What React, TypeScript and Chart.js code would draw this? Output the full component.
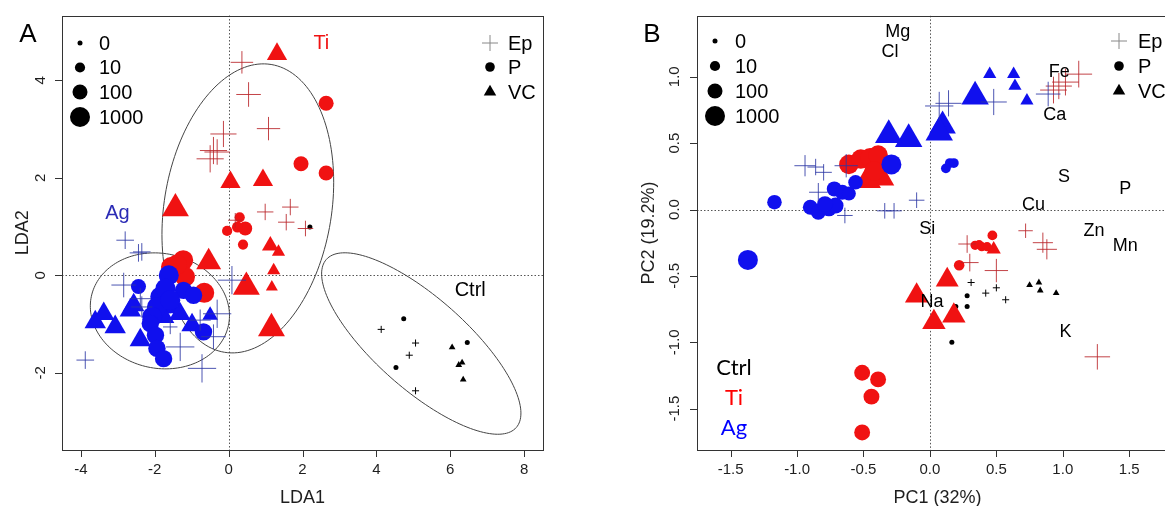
import React, { useEffect, useRef } from "react";
import { Chart, registerables } from "chart.js";
Chart.register(...registerables);

type Pt = [number, number, number]; // [x, y, abundance]

// ---------------- Panel A (LDA) ----------------
const A_X_TICKS = [-4, -2, 0, 2, 4, 6, 8];
const A_Y_TICKS = [-2, 0, 2, 4];
const A_X_RANGE = [-4.51, 8.51];
const A_Y_RANGE = [-3.585, 5.33];

const A_AG_EP: Pt[] = [
  [-2.80, 0.72, 30], [-2.35, 0.48, 30], [-2.44, 0.46, 30], [-3.88, -1.74, 30],
  [-2.84, -0.20, 300], [-2.39, -0.48, 100], [-2.35, -0.65, 100],
  [-1.31, -1.47, 1000], [-0.72, -1.91, 1000], [-0.41, -1.26, 300],
  [-0.31, -0.79, 1000], [0.09, -0.10, 1000], [-1.58, -1.06, 10], [-0.77, -0.92, 100],
];
const A_AG_P: Pt[] = [
  [-2.44, -0.23, 100], [-1.62, 0.0, 1000], [-1.22, -0.31, 300], [-0.95, -0.41, 300],
  [-1.85, -0.44, 1000], [-1.94, -0.65, 1000], [-2.07, -0.85, 1000], [-2.12, -0.99, 300],
  [-1.98, -1.23, 300], [-1.94, -1.50, 300], [-1.76, -1.71, 300], [-0.68, -1.16, 300],
  [-1.71, -0.27, 1000], [-1.58, -0.51, 1000],
];
const A_AG_VC: Pt[] = [
  [-3.61, -0.96, 150], [-3.38, -0.79, 150], [-3.07, -1.06, 150], [-2.66, -0.72, 150],
  [-2.57, -0.61, 150], [-2.39, -1.33, 150], [-1.85, -0.65, 150], [-1.61, -0.65, 150],
  [-1.32, -0.79, 150], [-0.99, -1.02, 150], [-0.50, -0.82, 20], [-2.05, -0.79, 150],
  [-1.76, -0.85, 150],
];
const A_TI_EP: Pt[] = [
  [0.36, 4.37, 150], [0.54, 3.71, 300], [-0.14, 2.90, 500], [1.08, 3.01, 200],
  [-0.41, 2.56, 700], [-0.31, 2.53, 400], [-0.50, 2.39, 700],
  [0.99, 1.30, 20], [1.67, 1.40, 20], [1.56, 1.09, 20], [2.08, 0.96, 15], [0.18, 1.13, 10],
];
const A_TI_P: Pt[] = [
  [2.64, 3.53, 100], [1.96, 2.29, 100], [2.64, 2.10, 100], [0.30, 1.19, 10],
  [0.45, 0.96, 60], [0.24, 0.99, 15], [-0.04, 0.91, 10], [0.39, 0.63, 10],
  [-1.23, 0.31, 1000], [-1.56, 0.17, 1000], [-1.18, -0.03, 1000], [-0.66, -0.36, 1000],
  [-1.40, 0.22, 1000],
];
const A_TI_VC: Pt[] = [
  [1.31, 4.54, 100], [0.05, 1.91, 100], [0.93, 1.95, 100], [-1.44, 1.37, 1000],
  [-0.54, 0.27, 500], [1.13, 0.61, 30], [1.35, 0.48, 8], [1.22, 0.10, 8],
  [1.17, -0.24, 5], [0.48, -0.24, 1000], [1.16, -1.09, 1000],
];
const A_CTRL_EP: Pt[] = [[4.13, -1.11, 0], [5.06, -1.39, 0], [4.89, -1.64, 0], [5.06, -2.37, 0]];
const A_CTRL_P: Pt[] = [[4.74, -0.89, 0], [4.53, -1.89, 0], [6.46, -1.38, 0], [2.20, 0.99, 0]];
const A_CTRL_VC: Pt[] = [[6.05, -1.48, 0], [6.32, -1.79, 0], [6.23, -1.84, 0], [6.35, -2.14, 0]];

// confidence ellipses: centre and two conjugate semi-axes (data units)
const A_ELLIPSE_CX = [-1.86, 0.52, 5.215];
const A_ELLIPSE_CY = [-0.73, 1.373, -1.40];
const A_ELLIPSE_U = [[1.855, -0.299], [0.631, 2.953], [2.570, -1.725]];
const A_ELLIPSE_V = [[-0.325, -1.152], [2.237, -0.275], [-0.820, -0.701]];

const A_GROUP_LABELS = ["Ti", "Ag", "Ctrl"];
const A_GROUP_LABEL_X = [2.51, -3.01, 6.54];
const A_GROUP_LABEL_Y = [4.75, 1.27, -0.31];

// ---------------- Panel B (PCA) ----------------
const B_X_TICKS = [-1.5, -1.0, -0.5, 0.0, 0.5, 1.0, 1.5];
const B_Y_TICKS = [-1.5, -1.0, -0.5, 0.0, 0.5, 1.0];
const B_X_RANGE = [-1.753, 1.867];
const B_Y_RANGE = [-1.812, 1.459];

const B_AG_EP: Pt[] = [
  [-0.94, 0.33, 100], [-0.86, 0.32, 20], [-0.80, 0.28, 20], [-0.84, 0.13, 40],
  [-0.64, -0.045, 15], [-0.63, 0.33, 200], [-0.34, -0.01, 15], [-0.27, -0.01, 15],
  [-0.10, 0.07, 15], [0.07, 0.78, 1000], [0.14, 0.80, 500], [0.48, 0.81, 500], [0.89, 0.87, 300],
];
const B_AG_P: Pt[] = [
  [-1.37, -0.38, 1000], [-1.17, 0.055, 80], [-0.90, 0.017, 100], [-0.84, -0.02, 100],
  [-0.76, 0.005, 100], [-0.71, 0.03, 150], [-0.72, 0.155, 100], [-0.66, 0.13, 100],
  [-0.61, 0.12, 60], [-0.56, 0.205, 80], [-0.29, 0.34, 1000], [0.12, 0.31, 8],
  [0.15, 0.35, 8], [0.18, 0.35, 8], [-0.79, 0.04, 150],
];
const B_AG_VC: Pt[] = [
  [0.45, 1.02, 8], [0.63, 1.02, 8], [0.64, 0.93, 8], [0.73, 0.82, 8],
  [0.34, 0.85, 1200], [0.095, 0.63, 900], [0.07, 0.58, 1200], [-0.16, 0.53, 1200], [-0.31, 0.56, 1200],
];
const B_TI_EP: Pt[] = [
  [0.72, -0.16, 10], [0.85, -0.25, 70], [0.88, -0.30, 70], [0.50, -0.46, 200],
  [0.30, -0.40, 30], [0.28, -0.26, 30], [1.26, -1.11, 400],
  [0.93, 0.90, 600], [0.97, 0.93, 500], [1.02, 0.96, 600], [1.12, 1.02, 600],
];
const B_TI_P: Pt[] = [
  [-0.51, -1.23, 150], [-0.39, -1.28, 150], [-0.44, -1.41, 150], [-0.51, -1.68, 150],
  [0.22, -0.42, 12], [0.47, -0.195, 8], [0.34, -0.27, 6], [0.39, -0.28, 6],
  [0.43, -0.28, 6], [0.37, -0.265, 6],
  [-0.61, 0.34, 800], [-0.52, 0.38, 800], [-0.45, 0.39, 800], [-0.39, 0.41, 800], [-0.42, 0.29, 800],
];
const B_TI_VC: Pt[] = [
  [-0.10, -0.65, 300], [0.13, -0.53, 250], [0.03, -0.85, 300], [0.18, -0.80, 300],
  [0.48, -0.30, 12], [-0.47, 0.22, 1000], [-0.37, 0.24, 1000],
];
const B_CTRL_EP: Pt[] = [[0.31, -0.55, 0], [0.42, -0.63, 0], [0.50, -0.59, 0], [0.57, -0.68, 0]];
const B_CTRL_P: Pt[] = [[0.28, -0.65, 0], [0.195, -0.73, 0], [0.28, -0.73, 0], [0.165, -1.0, 0]];
const B_CTRL_VC: Pt[] = [[0.75, -0.57, 0], [0.82, -0.55, 0], [0.83, -0.61, 0], [0.95, -0.63, 0]];

const B_VAR_NAMES = ["Mg", "Cl", "Fe", "Ca", "S", "P", "Cu", "Si", "Zn", "Mn", "Na", "K"];
const B_VAR_X = [-0.243, -0.30, 0.973, 0.94, 1.01, 1.47, 0.78, -0.02, 1.235, 1.47, 0.015, 1.02];
const B_VAR_Y = [1.336, 1.19, 1.035, 0.71, 0.245, 0.158, 0.03, -0.145, -0.16, -0.276, -0.70, -0.92];

// legends
const SIZE_LEGEND_VALUES = [0, 10, 100, 1000];
const SIZE_LEGEND_LABELS = ["0", "10", "100", "1000"];
const SHAPE_LEGEND_LABELS = ["Ep", "P", "VC"];
const GROUP_LEGEND_LABELS = ["Ctrl", "Ti", "Ag"];

// ---------------- styling ----------------
const H = 506;
const FONT = '"Liberation Sans", Arial, Helvetica, sans-serif';
const FONT2 = 'Lato, "Liberation Sans", sans-serif';
const RED = "#f01212";
const BLUE = "#1010ee";
const RED_LINE = "rgba(185,35,40,0.85)";
const BLUE_LINE = "rgba(45,55,165,0.85)";
const BLACK = "#000000";
const TEXT = "#1e1e1e";

type Shape = "circle" | "triangle" | "cross";
const radiusFor = (v: number) => 2.5 + 2.5 * Math.log10(v + 1);
const shapeK = (s: Shape) => (s === "triangle" ? 1.555 : s === "cross" ? 1.414 : 1);

function makeDataset(label: string, pts: Pt[], shape: Shape, color: string) {
  const radii = pts.map((p) => radiusFor(p[2]) * shapeK(shape));
  const fill = shape === "cross" ? "rgba(0,0,0,0)" : color;
  return {
    label,
    data: pts.map((p) => ({ x: p[0], y: p[1] })),
    pointStyle: shape,
    pointRadius: radii,
    pointHoverRadius: radii,
    backgroundColor: fill,
    pointBackgroundColor: fill,
    borderColor: color,
    pointBorderColor: color,
    borderWidth: shape === "cross" ? 1 : 0,
    pointBorderWidth: shape === "cross" ? 1 : 0,
    showLine: false,
  };
}

function marker(ctx: CanvasRenderingContext2D, shape: Shape, x: number, y: number, r: number, color: string) {
  ctx.save();
  ctx.fillStyle = color;
  ctx.strokeStyle = color;
  ctx.lineWidth = 1;
  ctx.beginPath();
  if (shape === "circle") {
    ctx.arc(x, y, r, 0, Math.PI * 2);
    ctx.fill();
  } else if (shape === "triangle") {
    for (let k = 0; k < 3; k++) {
      const a = (k * 2 * Math.PI) / 3;
      const px = x + Math.sin(a) * r;
      const py = y - Math.cos(a) * r;
      if (k === 0) ctx.moveTo(px, py);
      else ctx.lineTo(px, py);
    }
    ctx.closePath();
    ctx.fill();
  } else {
    ctx.moveTo(x - r, y);
    ctx.lineTo(x + r, y);
    ctx.moveTo(x, y - r);
    ctx.lineTo(x, y + r);
    ctx.stroke();
  }
  ctx.restore();
}

function drawZeroLines(chart: any) {
  const { ctx, chartArea: ca, scales } = chart;
  const x0 = Math.round(scales.x.getPixelForValue(0)) + 0.5;
  const y0 = Math.round(scales.y.getPixelForValue(0)) + 0.5;
  ctx.save();
  ctx.strokeStyle = "#555";
  ctx.lineWidth = 1;
  ctx.setLineDash([1.5, 2]);
  ctx.beginPath();
  ctx.moveTo(x0, ca.top);
  ctx.lineTo(x0, ca.bottom);
  ctx.moveTo(ca.left, y0);
  ctx.lineTo(ca.right, y0);
  ctx.stroke();
  ctx.restore();
}

function drawFrame(
  chart: any, xt: number[], yt: number[], fmt: (v: number) => string,
  xTitle: string, yTitle: string, yLabOff: number, yTitleOff: number
) {
  const { ctx, chartArea: ca, scales } = chart;
  ctx.save();
  ctx.strokeStyle = "#333";
  ctx.lineWidth = 1;
  ctx.strokeRect(Math.round(ca.left) + 0.5, Math.round(ca.top) + 0.5, Math.round(ca.right - ca.left), Math.round(ca.bottom - ca.top));
  ctx.fillStyle = TEXT;
  ctx.font = `15px ${FONT}`;
  ctx.textAlign = "center";
  ctx.textBaseline = "middle";
  ctx.beginPath();
  for (const v of xt) {
    const px = Math.round(scales.x.getPixelForValue(v)) + 0.5;
    ctx.moveTo(px, ca.bottom);
    ctx.lineTo(px, ca.bottom + 7);
  }
  for (const v of yt) {
    const py = Math.round(scales.y.getPixelForValue(v)) + 0.5;
    ctx.moveTo(ca.left - 7, py);
    ctx.lineTo(ca.left, py);
  }
  ctx.stroke();
  for (const v of xt) {
    ctx.fillText(fmt(v), scales.x.getPixelForValue(v), ca.bottom + 20);
  }
  for (const v of yt) {
    ctx.save();
    ctx.translate(ca.left - yLabOff, scales.y.getPixelForValue(v));
    ctx.rotate(-Math.PI / 2);
    ctx.fillText(fmt(v), 0, 0);
    ctx.restore();
  }
  ctx.font = `18px ${FONT}`;
  ctx.fillText(xTitle, (ca.left + ca.right) / 2, ca.bottom + 48);
  ctx.save();
  ctx.translate(ca.left - yTitleOff, (ca.top + ca.bottom) / 2);
  ctx.rotate(-Math.PI / 2);
  ctx.fillText(yTitle, 0, 0);
  ctx.restore();
  ctx.restore();
}

function drawSizeLegend(ctx: CanvasRenderingContext2D, x: number, ys: number[], tx: number) {
  ctx.save();
  ctx.font = `20px ${FONT}`;
  ctx.fillStyle = BLACK;
  ctx.textAlign = "left";
  ctx.textBaseline = "middle";
  SIZE_LEGEND_VALUES.forEach((v, i) => {
    marker(ctx, "circle", x, ys[i], radiusFor(v), BLACK);
    ctx.fillText(SIZE_LEGEND_LABELS[i], tx, ys[i] + 1);
  });
  ctx.restore();
}

function drawShapeLegend(ctx: CanvasRenderingContext2D, x: number, ys: number[], tx: number) {
  ctx.save();
  marker(ctx, "cross", x, ys[0], 8, "#888");
  marker(ctx, "circle", x, ys[1], 4.8, BLACK);
  marker(ctx, "triangle", x, ys[2], 7.2, BLACK);
  ctx.font = `20px ${FONT}`;
  ctx.fillStyle = BLACK;
  ctx.textAlign = "left";
  ctx.textBaseline = "middle";
  SHAPE_LEGEND_LABELS.forEach((t, i) => ctx.fillText(t, tx, ys[i] + 1));
  ctx.restore();
}

function baseOptions(padding: any, xr: number[], yr: number[]) {
  return {
    animation: false,
    responsive: false,
    maintainAspectRatio: false,
    events: [],
    layout: { padding },
    plugins: { legend: { display: false }, tooltip: { enabled: false } },
    scales: {
      x: { type: "linear", min: xr[0], max: xr[1], display: false },
      y: { type: "linear", min: yr[0], max: yr[1], display: false },
    },
  };
}

const panelAPlugin = {
  id: "panelA",
  beforeDatasetsDraw(chart: any) {
    drawZeroLines(chart);
    const { ctx, scales } = chart;
    ctx.save();
    ctx.strokeStyle = "#444";
    ctx.lineWidth = 1;
    for (let e = 0; e < A_ELLIPSE_CX.length; e++) {
      ctx.beginPath();
      const N = 160;
      for (let i = 0; i <= N; i++) {
        const t = (2 * Math.PI * i) / N;
        const dx = A_ELLIPSE_CX[e] + Math.cos(t) * A_ELLIPSE_U[e][0] + Math.sin(t) * A_ELLIPSE_V[e][0];
        const dy = A_ELLIPSE_CY[e] + Math.cos(t) * A_ELLIPSE_U[e][1] + Math.sin(t) * A_ELLIPSE_V[e][1];
        const px = scales.x.getPixelForValue(dx);
        const py = scales.y.getPixelForValue(dy);
        if (i === 0) ctx.moveTo(px, py);
        else ctx.lineTo(px, py);
      }
      ctx.closePath();
      ctx.stroke();
    }
    ctx.restore();
  },
  afterDraw(chart: any) {
    const { ctx, scales } = chart;
    drawFrame(chart, A_X_TICKS, A_Y_TICKS, (v) => String(v), "LDA1", "LDA2", 21, 39);
    drawSizeLegend(ctx, 80, [43, 67.5, 92, 117], 99);
    drawShapeLegend(ctx, 490, [43, 67, 92], 508);
    const colors = [RED, "#2b2bb5", BLACK];
    ctx.save();
    ctx.font = `20px ${FONT}`;
    ctx.textAlign = "center";
    ctx.textBaseline = "middle";
    A_GROUP_LABELS.forEach((t, i) => {
      ctx.fillStyle = colors[i];
      ctx.fillText(t, scales.x.getPixelForValue(A_GROUP_LABEL_X[i]), scales.y.getPixelForValue(A_GROUP_LABEL_Y[i]));
    });
    ctx.fillStyle = BLACK;
    ctx.font = `26px ${FONT}`;
    ctx.fillText("A", 28, 35);
    ctx.restore();
  },
};

const panelBPlugin = {
  id: "panelB",
  beforeDatasetsDraw(chart: any) {
    drawZeroLines(chart);
  },
  afterDraw(chart: any) {
    const { ctx, scales } = chart;
    drawFrame(chart, B_X_TICKS, B_Y_TICKS, (v) => v.toFixed(1), "PC1 (32%)", "PC2 (19.2%)", 22, 48);
    ctx.save();
    ctx.font = `18px ${FONT}`;
    ctx.fillStyle = BLACK;
    ctx.textAlign = "center";
    ctx.textBaseline = "middle";
    B_VAR_NAMES.forEach((t, i) => {
      ctx.fillText(t, scales.x.getPixelForValue(B_VAR_X[i]), scales.y.getPixelForValue(B_VAR_Y[i]));
    });
    ctx.restore();
    drawSizeLegend(ctx, 115, [41, 66, 91, 116], 135);
    drawShapeLegend(ctx, 519, [41, 66, 91], 538);
    ctx.save();
    ctx.font = `22px ${FONT2}`;
    ctx.textAlign = "center";
    ctx.textBaseline = "middle";
    const colors = [BLACK, "#ff0000", "#0000ff"];
    GROUP_LEGEND_LABELS.forEach((t, i) => {
      ctx.fillStyle = colors[i];
      ctx.fillText(t, 134, 368 + i * 30);
    });
    ctx.fillStyle = BLACK;
    ctx.font = `26px ${FONT}`;
    ctx.fillText("B", 52, 35);
    ctx.restore();
  },
};

function configA() {
  return {
    type: "scatter",
    data: {
      datasets: [
        makeDataset("Ag Ep", A_AG_EP, "cross", BLUE_LINE),
        makeDataset("Ag P", A_AG_P, "circle", BLUE),
        makeDataset("Ag VC", A_AG_VC, "triangle", BLUE),
        makeDataset("Ti Ep", A_TI_EP, "cross", RED_LINE),
        makeDataset("Ti P", A_TI_P, "circle", RED),
        makeDataset("Ti VC", A_TI_VC, "triangle", RED),
        makeDataset("Ctrl Ep", A_CTRL_EP, "cross", BLACK),
        makeDataset("Ctrl P", A_CTRL_P, "circle", BLACK),
        makeDataset("Ctrl VC", A_CTRL_VC, "triangle", BLACK),
      ],
    },
    options: baseOptions({ left: 62, right: 17, top: 15, bottom: 56 }, A_X_RANGE, A_Y_RANGE),
    plugins: [panelAPlugin],
  };
}

function configB() {
  return {
    type: "scatter",
    data: {
      datasets: [
        makeDataset("Ag Ep", B_AG_EP, "cross", BLUE_LINE),
        makeDataset("Ag P", B_AG_P, "circle", BLUE),
        makeDataset("Ag VC", B_AG_VC, "triangle", BLUE),
        makeDataset("Ti Ep", B_TI_EP, "cross", RED_LINE),
        makeDataset("Ti P", B_TI_P, "circle", RED),
        makeDataset("Ti VC", B_TI_VC, "triangle", RED),
        makeDataset("Ctrl Ep", B_CTRL_EP, "cross", BLACK),
        makeDataset("Ctrl P", B_CTRL_P, "circle", BLACK),
        makeDataset("Ctrl VC", B_CTRL_VC, "triangle", BLACK),
      ],
    },
    options: baseOptions({ left: 97, right: 22, top: 15, bottom: 56 }, B_X_RANGE, B_Y_RANGE),
    plugins: [panelBPlugin],
  };
}

function ChartCanvas({ left, width, make }: { left: number; width: number; make: () => any }) {
  const ref = useRef<HTMLCanvasElement>(null);
  useEffect(() => {
    const chart = new Chart(ref.current as HTMLCanvasElement, make());
    return () => chart.destroy();
  }, []);
  return (
    <canvas
      ref={ref}
      width={width}
      height={H}
      style={{ position: "absolute", left, top: 0, width, height: H }}
    />
  );
}

export default function App() {
  return (
    <div
      style={{
        position: "fixed",
        left: 0,
        top: 0,
        width: 1165,
        height: H,
        overflow: "hidden",
        background: "#ffffff",
      }}
    >
      <ChartCanvas left={0} width={560} make={configA} />
      <ChartCanvas left={600} width={600} make={configB} />
    </div>
  );
}
